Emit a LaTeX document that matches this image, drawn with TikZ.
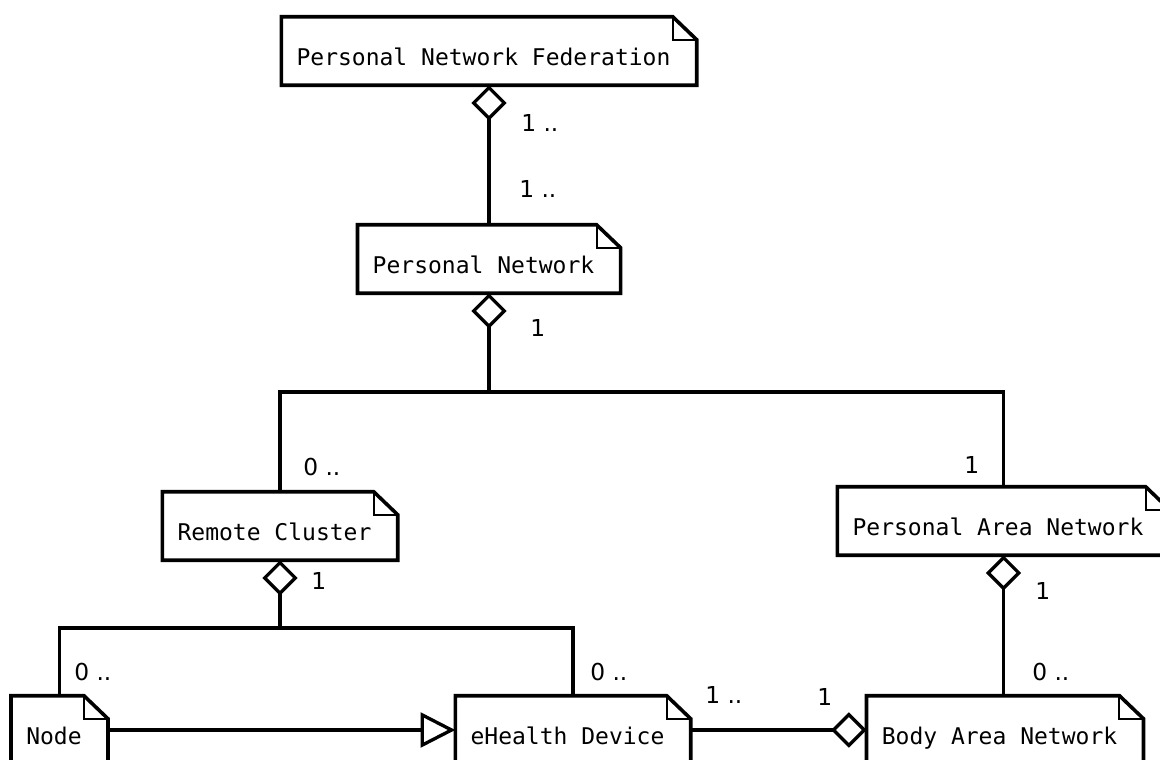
\documentclass[tikz,border=0pt]{standalone}
\usepackage{fontspec}
\usepackage{tikz}
\usetikzlibrary{arrows.meta,calc}
\newfontfamily\umlfont{DejaVu Sans Mono}
\newfontfamily\multfont{DejaVu Sans}

\tikzset{
  note/.style={inner xsep=11.25pt, inner ysep=0pt, text height=36pt, text depth=15pt,
    font=\umlfont\fontsize{17.25}{20}\selectfont, execute at end node={\hspace{8.25pt}}},
  notebox/.style={line width=2.7pt, line join=miter},
  notefold/.style={line width=1.5pt},
  link/.style={line width=2.5pt},
  aggr/.style={link, {Diamond[open, length=26.5pt, width=26.5pt]}-},
  gener/.style={link, -{Triangle[open, length=26pt, width=26pt]}},
  mult/.style={anchor=west, inner sep=0pt, font=\multfont\fontsize{17.5}{20}\selectfont}
}

\begin{document}
\begin{tikzpicture}[x=0.75pt,y=0.75pt,yscale=-1,xscale=1]
\useasboundingbox (0,0) rectangle (1160,760);
\clip (0,0) rectangle (1160,760);
\fill[white] (0,0) rectangle (1160,760);

% Notes
\node[note] (pnf) at (489,51) {Personal Network Federation};
\node[note] (pn) at (489,259) {Personal Network};
\node[note] (rc) at (280,526) {Remote Cluster};
\node[note] (pan) at (1003.5,521) {Personal Area Network};
\node[note] (nd) at (59.5,730) {Node};
\node[note] (eh) at (573,730) {eHealth Device};
\node[note] (ban) at (1005,730) {Body Area Network};

%Shape: folded corner
\foreach \n in {pnf,pn,rc,pan,nd,eh,ban}{
  \draw[notebox] (\n.north west) -- ($(\n.north east)+(-24,0)$) -- ($(\n.north east)+(0,23)$) -- (\n.south east) -- (\n.south west) -- cycle;
  \draw[notefold] ($(\n.north east)+(-24,0)$) |- ($(\n.north east)+(0,23)$);
}

% Joints
\coordinate (pnjoin) at ($(pn.south |- 0,392)$);
\coordinate (rcjoin) at ($(rc.south |- 0,628)$);

%Straight Lines
\draw[aggr] (pnf.south) -- (pn.north);
\draw[aggr] (pn.south) -- (pnjoin);
\draw[link] (rc.north) |- (pnjoin) -| (pan.north);
\draw[aggr] (rc.south) -- (rcjoin);
\draw[link] (nd.north) |- (rcjoin) -| (eh.north);
\draw[aggr] (pan.south) -- (pan.south |- ban.north);
\draw[gener] (nd.east) -- (eh.west);
\draw[aggr] (ban.west) -- (eh.east);

% Text Node
\node[mult] (pnf m) at (521,123) {1 ..};
\node[mult] (pn m up) at (519,189) {1 ..};
\node[mult] (pn m) at (530,328) {1};
\node[mult] (rc m up) at (303,467) {0 ..};
\node[mult] (pan m up) at (964,465) {1};
\node[mult] (rc m) at (311,581) {1};
\node[mult] (pan m) at (1035,591) {1};
\node[mult] (nd m) at (74,672) {0 ..};
\node[mult] (eh m up) at (590,672) {0 ..};
\node[mult] (ban m up) at (1032,672) {0 ..};
\node[mult] (eh m) at (705,695) {1 ..};
\node[mult] (ban m) at (817,697) {1};

\end{tikzpicture}
\end{document}
